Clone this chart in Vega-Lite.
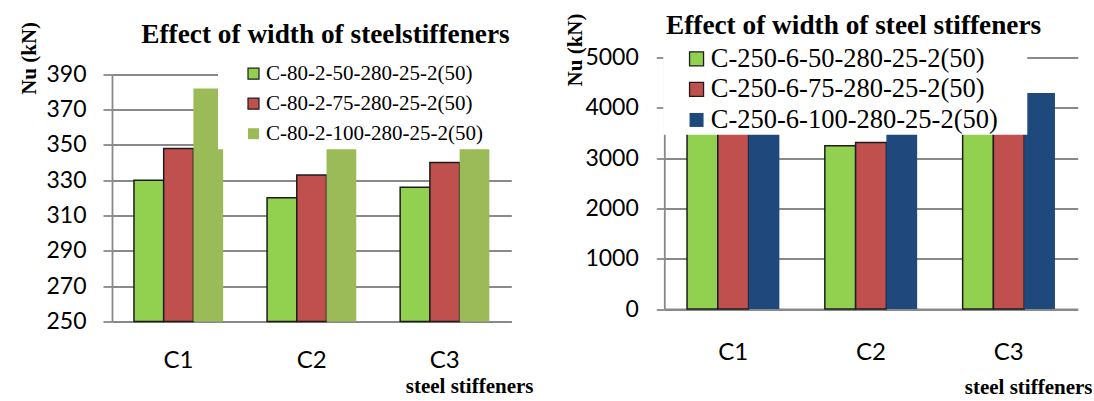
{
  "$schema": "https://vega.github.io/schema/vega-lite/v6.json",
  "padding": {"left": 18, "top": 11.5, "right": 0, "bottom": 0},
  "background": "white",
  "spacing": 152.3,
  "bounds": "flush",
  "config": {"view": {"stroke": null}, "font": "Liberation Serif"},
  "resolve": {"scale": {"color": "independent", "stroke": "independent", "x": "independent", "y": "independent", "xOffset": "independent"}, "legend": {"color": "independent", "stroke": "independent"}},
  "datasets": {
    "left": [
      {"cat": "C1", "series": "C-80-2-50-280-25-2(50)", "nu": 330},
      {"cat": "C1", "series": "C-80-2-75-280-25-2(50)", "nu": 348},
      {"cat": "C1", "series": "C-80-2-100-280-25-2(50)", "nu": 382},
      {"cat": "C2", "series": "C-80-2-50-280-25-2(50)", "nu": 320},
      {"cat": "C2", "series": "C-80-2-75-280-25-2(50)", "nu": 333},
      {"cat": "C2", "series": "C-80-2-100-280-25-2(50)", "nu": 356},
      {"cat": "C3", "series": "C-80-2-50-280-25-2(50)", "nu": 326},
      {"cat": "C3", "series": "C-80-2-75-280-25-2(50)", "nu": 340},
      {"cat": "C3", "series": "C-80-2-100-280-25-2(50)", "nu": 362}
    ],
    "right": [
      {"cat": "C1", "series": "C-250-6-50-280-25-2(50)", "nu": 3700},
      {"cat": "C1", "series": "C-250-6-75-280-25-2(50)", "nu": 3850},
      {"cat": "C1", "series": "C-250-6-100-280-25-2(50)", "nu": 4000},
      {"cat": "C2", "series": "C-250-6-50-280-25-2(50)", "nu": 3247},
      {"cat": "C2", "series": "C-250-6-75-280-25-2(50)", "nu": 3312},
      {"cat": "C2", "series": "C-250-6-100-280-25-2(50)", "nu": 3485},
      {"cat": "C3", "series": "C-250-6-50-280-25-2(50)", "nu": 3700},
      {"cat": "C3", "series": "C-250-6-75-280-25-2(50)", "nu": 3800},
      {"cat": "C3", "series": "C-250-6-100-280-25-2(50)", "nu": 4294}
    ]
  },
  "hconcat": [
    {
      "width": 399.3,
      "height": 263.9,
      "data": {"name": "left"},
      "title": {"text": "Effect of width of  steelstiffeners", "anchor": "start", "frame": "group", "dx": 29.3, "dy": 48.6, "offset": 0, "font": "Liberation Serif", "fontSize": 27.3, "fontWeight": "bold", "color": "#000000", "baseline": "alphabetic"},
      "mark": {"type": "bar", "strokeWidth": 1.5},
      "encoding": {
        "x": {"field": "cat", "type": "nominal", "scale": {"paddingInner": 0.33, "paddingOuter": 0.165},
          "axis": {"domain": true, "domainColor": "#898989", "domainWidth": 1.8, "ticks": false, "grid": false, "labelFont": "Lato", "labelFontSize": 24, "labelColor": "#000000", "labelAngle": 0, "labelBaseline": "alphabetic", "labelPadding": 45.6,
            "title": "steel stiffeners", "titleFont": "Liberation Serif", "titleFontSize": 21, "titleFontWeight": "bold", "titleColor": "#000000", "titleAlign": "right", "titleBaseline": "alphabetic", "titleX": 421, "titleY": 71}},
        "xOffset": {"field": "series", "type": "nominal", "sort": ["C-80-2-50-280-25-2(50)", "C-80-2-75-280-25-2(50)", "C-80-2-100-280-25-2(50)"], "scale": {"paddingInner": 0, "paddingOuter": 0}},
        "y": {"field": "nu", "type": "quantitative", "scale": {"domain": [250, 390], "range": [263.9, 16.8], "nice": false, "zero": false},
          "axis": {"values": [250, 270, 290, 310, 330, 350, 370, 390], "format": "d", "grid": true, "gridColor": "#898989", "gridWidth": 1.8, "domainColor": "#898989", "domainWidth": 1.8, "tickColor": "#898989", "tickWidth": 1.8, "tickSize": 9, "labelFont": "Lato", "labelFontSize": 23, "labelColor": "#000000", "labelPadding": 17,
            "title": "Nu (kN)", "titleFont": "Liberation Serif", "titleFontSize": 21, "titleFontWeight": "bold", "titleColor": "#000000", "titleAngle": 270, "titleAlign": "right", "titleBaseline": "alphabetic", "titleX": -76.2, "titleY": -36.1}},
        "y2": {"datum": 250},
        "color": {"field": "series", "type": "nominal", "sort": ["C-80-2-50-280-25-2(50)", "C-80-2-75-280-25-2(50)", "C-80-2-100-280-25-2(50)"],
          "scale": {"range": ["#92D050", "#C0504D", "#9BBB59"]},
          "legend": {"orient": "none", "direction": "vertical", "legendX": 106, "legendY": 0.7, "fillColor": "white", "padding": 5, "symbolType": "square", "symbolSize": 121, "symbolOffset": 20, "symbolOpacity": 1, "labelOffset": 2, "rowPadding": 8, "labelFont": "Liberation Serif", "labelFontSize": 21, "labelColor": "#000000", "labelLimit": 0,
            "title": " ", "titleOrient": "right", "titleFontSize": 1, "titlePadding": 40,
            "encode": {"symbols": {"update": {"stroke": {"signal": "datum.value === 'C-80-2-100-280-25-2(50)' ? 'transparent' : '#1c1c1c'"}, "strokeWidth": {"value": 1.2}}}}}},
        "stroke": {"field": "series", "type": "nominal", "sort": ["C-80-2-50-280-25-2(50)", "C-80-2-75-280-25-2(50)", "C-80-2-100-280-25-2(50)"],
          "scale": {"range": ["#1c1c1c", "#1c1c1c", "transparent"]}, "legend": null}
      }
    },
    {
      "width": 413.4,
      "height": 251.5,
      "data": {"name": "right"},
      "title": {"text": "Effect of width of  steel stiffeners", "anchor": "start", "frame": "group", "dx": 1.7, "dy": 48.5, "offset": 0, "font": "Liberation Serif", "fontSize": 27.3, "fontWeight": "bold", "color": "#000000", "baseline": "alphabetic"},
      "mark": {"type": "bar", "strokeWidth": 1.5},
      "encoding": {
        "x": {"field": "cat", "type": "nominal", "scale": {"paddingInner": 0.33, "paddingOuter": 0.165},
          "axis": {"domain": true, "domainColor": "#898989", "domainWidth": 1.8, "ticks": false, "grid": false, "labelFont": "Lato", "labelFontSize": 24, "labelColor": "#000000", "labelAngle": 0, "labelBaseline": "alphabetic", "labelPadding": 50.7,
            "title": "steel stiffeners", "titleFont": "Liberation Serif", "titleFontSize": 21, "titleFontWeight": "bold", "titleColor": "#000000", "titleAlign": "right", "titleBaseline": "alphabetic", "titleX": 427.7, "titleY": 84}},
        "xOffset": {"field": "series", "type": "nominal", "sort": ["C-250-6-50-280-25-2(50)", "C-250-6-75-280-25-2(50)", "C-250-6-100-280-25-2(50)"], "scale": {"paddingInner": 0, "paddingOuter": 0}},
        "y": {"field": "nu", "type": "quantitative", "scale": {"domain": [0, 5000], "nice": false},
          "axis": {"values": [0, 1000, 2000, 3000, 4000, 5000], "format": "d", "grid": true, "gridColor": "#898989", "gridWidth": 1.8, "domainColor": "#898989", "domainWidth": 1.8, "tickColor": "#898989", "tickWidth": 1.8, "tickSize": 8, "labelFont": "Lato", "labelFontSize": 23, "labelColor": "#000000", "labelPadding": 18,
            "title": "Nu (kN)", "titleFont": "Liberation Serif", "titleFontSize": 21, "titleFontWeight": "bold", "titleColor": "#000000", "titleAngle": 270, "titleAlign": "right", "titleBaseline": "alphabetic", "titleX": -82.6, "titleY": -44.5}},
        "color": {"field": "series", "type": "nominal", "sort": ["C-250-6-50-280-25-2(50)", "C-250-6-75-280-25-2(50)", "C-250-6-100-280-25-2(50)"],
          "scale": {"range": ["#92D050", "#C0504D", "#1F497D"]},
          "legend": {"orient": "none", "direction": "vertical", "legendX": -1, "legendY": -12.8, "fillColor": "white", "padding": 1, "symbolType": "square", "symbolSize": 196, "symbolOffset": 19, "symbolOpacity": 1, "labelOffset": 1, "rowPadding": 3.5, "labelFont": "Liberation Serif", "labelFontSize": 26.5, "labelColor": "#000000", "labelLimit": 0,
            "title": " ", "titleOrient": "right", "titleFontSize": 1, "titlePadding": 27.5,
            "encode": {"symbols": {"update": {"stroke": {"signal": "datum.value === 'C-250-6-100-280-25-2(50)' ? 'transparent' : '#1c1c1c'"}, "strokeWidth": {"value": 1.3}}}}}},
        "stroke": {"field": "series", "type": "nominal", "sort": ["C-250-6-50-280-25-2(50)", "C-250-6-75-280-25-2(50)", "C-250-6-100-280-25-2(50)"],
          "scale": {"range": ["#1c1c1c", "#1c1c1c", "transparent"]}, "legend": null}
      }
    }
  ]
}
